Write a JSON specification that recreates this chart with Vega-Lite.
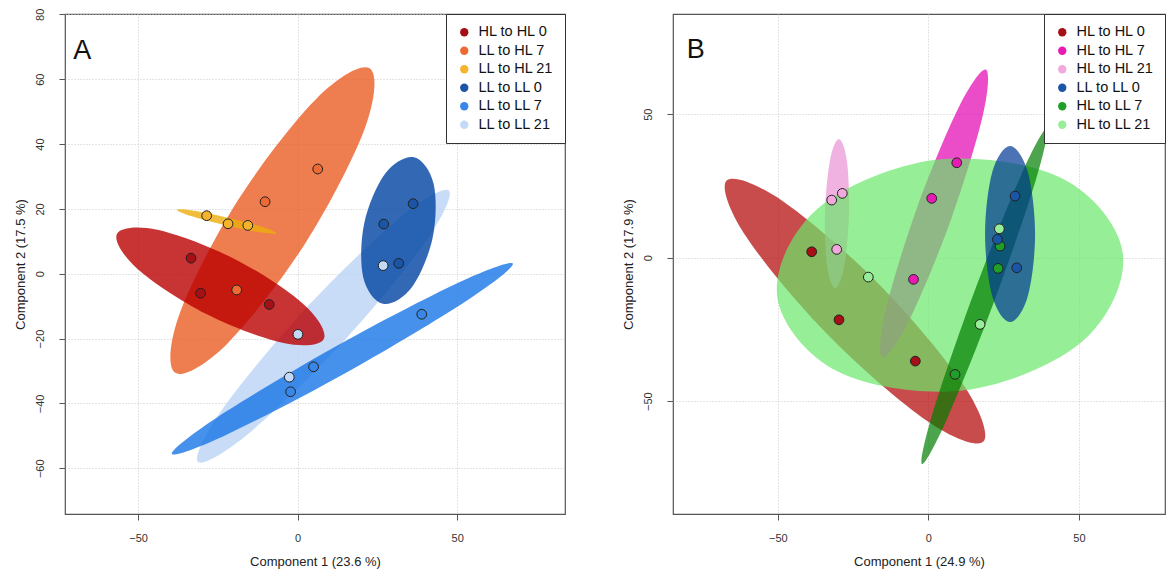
{
  "$schema": "https://vega.github.io/schema/vega-lite/v6.json",
  "padding": {"left": 13, "top": 7, "right": 0, "bottom": 0},
  "bounds": "flush",
  "spacing": 108,
  "config": {
    "font": "Liberation Sans",
    "view": {"stroke": "#555555", "strokeWidth": 1.2},
    "axis": {"grid": true, "gridColor": "#c8c8c8", "gridDash": [1, 2], "gridWidth": 1, "domain": false, "tickColor": "#555555", "tickSize": 6, "labelFontSize": 11, "labelColor": "#333333", "titleFontSize": 13, "titleFontWeight": "normal", "titleColor": "#222222"},
    "axisX": {"labelPadding": 12, "titlePadding": 12},
    "axisY": {"labelAngle": -90, "labelPadding": 14, "titlePadding": 7},
    "legend": {"orient": "top-right", "offset": 0, "strokeColor": "#333333", "fillColor": "white", "padding": 11, "labelFontSize": 14.5, "labelColor": "#111111", "symbolType": "circle", "symbolSize": 70, "rowPadding": 3.5, "symbolStrokeWidth": 0, "labelOffset": 7}
  },
  "datasets": {
    "ptsA": [
      {"group": "LL to LL 21", "x": 26.8, "y": 2.5},
      {"group": "LL to LL 21", "x": 0.1, "y": -18.7},
      {"group": "LL to LL 21", "x": -2.6, "y": -31.9},
      {"group": "LL to LL 7", "x": 38.9, "y": -12.5},
      {"group": "LL to LL 7", "x": 5.0, "y": -28.7},
      {"group": "LL to LL 7", "x": -2.2, "y": -36.4},
      {"group": "LL to LL 0", "x": 36.2, "y": 21.6},
      {"group": "LL to LL 0", "x": 27.0, "y": 15.3},
      {"group": "LL to LL 0", "x": 31.7, "y": 3.2},
      {"group": "LL to HL 7", "x": 6.3, "y": 32.3},
      {"group": "LL to HL 7", "x": -10.2, "y": 22.2},
      {"group": "LL to HL 7", "x": -19.1, "y": -5.0},
      {"group": "LL to HL 21", "x": -28.5, "y": 17.9},
      {"group": "LL to HL 21", "x": -21.8, "y": 15.4},
      {"group": "LL to HL 21", "x": -15.6, "y": 14.9},
      {"group": "HL to HL 0", "x": -33.4, "y": 4.8},
      {"group": "HL to HL 0", "x": -30.4, "y": -6.0},
      {"group": "HL to HL 0", "x": -8.9, "y": -9.5}
    ],
    "ellA": [
      {"group": "LL to LL 21", "k": 0, "x": 47.40, "y": 25.63},
      {"group": "LL to LL 21", "k": 1, "x": 39.97, "y": 9.69},
      {"group": "LL to LL 21", "k": 2, "x": 13.86, "y": -21.45},
      {"group": "LL to LL 21", "k": 3, "x": -15.64, "y": -49.51},
      {"group": "LL to LL 21", "k": 4, "x": -31.22, "y": -58.06},
      {"group": "LL to LL 21", "k": 5, "x": -23.79, "y": -42.12},
      {"group": "LL to LL 21", "k": 6, "x": 2.32, "y": -10.98},
      {"group": "LL to LL 21", "k": 7, "x": 31.82, "y": 17.08},
      {"group": "LL to LL 7", "k": 0, "x": 67.49, "y": 3.17},
      {"group": "LL to LL 7", "k": 1, "x": 53.35, "y": -8.09},
      {"group": "LL to LL 7", "k": 2, "x": 16.18, "y": -29.97},
      {"group": "LL to LL 7", "k": 3, "x": -22.26, "y": -49.63},
      {"group": "LL to LL 7", "k": 4, "x": -39.40, "y": -55.60},
      {"group": "LL to LL 7", "k": 5, "x": -25.27, "y": -44.34},
      {"group": "LL to LL 7", "k": 6, "x": 11.91, "y": -22.46},
      {"group": "LL to LL 7", "k": 7, "x": 50.34, "y": -2.80},
      {"group": "LL to LL 0", "k": 0, "x": 36.49, "y": 35.91},
      {"group": "LL to LL 0", "k": 1, "x": 42.63, "y": 27.69},
      {"group": "LL to LL 0", "k": 2, "x": 42.32, "y": 11.08},
      {"group": "LL to LL 0", "k": 3, "x": 35.74, "y": -4.25},
      {"group": "LL to LL 0", "k": 4, "x": 26.71, "y": -9.26},
      {"group": "LL to LL 0", "k": 5, "x": 20.56, "y": -1.05},
      {"group": "LL to LL 0", "k": 6, "x": 20.88, "y": 15.57},
      {"group": "LL to LL 0", "k": 7, "x": 27.46, "y": 30.89},
      {"group": "LL to HL 7", "k": 0, "x": 22.57, "y": 63.35},
      {"group": "LL to HL 7", "k": 1, "x": 21.10, "y": 44.92},
      {"group": "LL to HL 7", "k": 2, "x": 2.66, "y": 9.78},
      {"group": "LL to HL 7", "k": 3, "x": -21.97, "y": -21.48},
      {"group": "LL to HL 7", "k": 4, "x": -38.37, "y": -30.55},
      {"group": "LL to HL 7", "k": 5, "x": -36.90, "y": -12.12},
      {"group": "LL to HL 7", "k": 6, "x": -18.46, "y": 23.02},
      {"group": "LL to HL 7", "k": 7, "x": 6.18, "y": 54.28},
      {"group": "LL to HL 21", "k": 0, "x": -6.55, "y": 12.49},
      {"group": "LL to HL 21", "k": 1, "x": -11.32, "y": 12.68},
      {"group": "LL to HL 21", "k": 2, "x": -22.45, "y": 14.89},
      {"group": "LL to HL 21", "k": 3, "x": -33.39, "y": 17.78},
      {"group": "LL to HL 21", "k": 4, "x": -37.77, "y": 19.69},
      {"group": "LL to HL 21", "k": 5, "x": -33.01, "y": 19.51},
      {"group": "LL to HL 21", "k": 6, "x": -21.88, "y": 17.29},
      {"group": "LL to HL 21", "k": 7, "x": -10.94, "y": 14.40},
      {"group": "HL to HL 0", "k": 0, "x": 8.21, "y": -20.12},
      {"group": "HL to HL 0", "k": 1, "x": -4.42, "y": -21.38},
      {"group": "HL to HL 0", "k": 2, "x": -28.62, "y": -12.40},
      {"group": "HL to HL 0", "k": 3, "x": -50.25, "y": 1.57},
      {"group": "HL to HL 0", "k": 4, "x": -56.61, "y": 12.31},
      {"group": "HL to HL 0", "k": 5, "x": -43.98, "y": 13.57},
      {"group": "HL to HL 0", "k": 6, "x": -19.78, "y": 4.58},
      {"group": "HL to HL 0", "k": 7, "x": 1.85, "y": -9.38}
    ],
    "ptsB": [
      {"group": "HL to HL 0", "x": -38.74, "y": 2.06},
      {"group": "HL to HL 0", "x": -29.67, "y": -21.64},
      {"group": "HL to HL 0", "x": -4.32, "y": -36.03},
      {"group": "HL to HL 7", "x": 9.44, "y": 33.07},
      {"group": "HL to HL 7", "x": 1.13, "y": 20.66},
      {"group": "HL to HL 7", "x": -4.92, "y": -7.56},
      {"group": "HL to HL 21", "x": -32.09, "y": 20.07},
      {"group": "HL to HL 21", "x": -28.57, "y": 22.40},
      {"group": "HL to HL 21", "x": -30.43, "y": 2.89},
      {"group": "HL to LL 7", "x": 23.82, "y": 4.04},
      {"group": "HL to LL 7", "x": 23.16, "y": -3.73},
      {"group": "HL to LL 7", "x": 8.87, "y": -40.66},
      {"group": "LL to LL 0", "x": 28.80, "y": 21.46},
      {"group": "LL to LL 0", "x": 22.92, "y": 6.38},
      {"group": "LL to LL 0", "x": 29.37, "y": -3.52},
      {"group": "HL to LL 21", "x": 23.59, "y": 10.07},
      {"group": "HL to LL 21", "x": 17.18, "y": -23.24},
      {"group": "HL to LL 21", "x": -19.93, "y": -6.76}
    ],
    "ellB": [
      {"group": "HL to HL 0", "k": 0, "x": 18.27, "y": -64.08},
      {"group": "HL to HL 0", "k": 1, "x": -0.27, "y": -56.97},
      {"group": "HL to HL 0", "k": 2, "x": -32.89, "y": -27.39},
      {"group": "HL to HL 0", "k": 3, "x": -60.53, "y": 7.35},
      {"group": "HL to HL 0", "k": 4, "x": -66.98, "y": 26.86},
      {"group": "HL to HL 0", "k": 5, "x": -48.44, "y": 19.76},
      {"group": "HL to HL 0", "k": 6, "x": -15.81, "y": -9.83},
      {"group": "HL to HL 0", "k": 7, "x": 11.83, "y": -44.56},
      {"group": "HL to HL 21", "k": 0, "x": -29.70, "y": 41.32},
      {"group": "HL to HL 21", "k": 1, "x": -27.04, "y": 33.66},
      {"group": "HL to HL 21", "k": 2, "x": -26.35, "y": 15.26},
      {"group": "HL to HL 21", "k": 3, "x": -27.97, "y": -3.07},
      {"group": "HL to HL 21", "k": 4, "x": -30.96, "y": -10.59},
      {"group": "HL to HL 21", "k": 5, "x": -33.62, "y": -2.93},
      {"group": "HL to HL 21", "k": 6, "x": -34.32, "y": 15.47},
      {"group": "HL to HL 21", "k": 7, "x": -32.69, "y": 33.80},
      {"group": "HL to HL 7", "k": 0, "x": 19.07, "y": 65.54},
      {"group": "HL to HL 7", "k": 1, "x": 18.04, "y": 49.34},
      {"group": "HL to HL 7", "k": 2, "x": 7.51, "y": 13.24},
      {"group": "HL to HL 7", "k": 3, "x": -6.28, "y": -21.60},
      {"group": "HL to HL 7", "k": 4, "x": -15.28, "y": -34.81},
      {"group": "HL to HL 7", "k": 5, "x": -14.25, "y": -18.61},
      {"group": "HL to HL 7", "k": 6, "x": -3.72, "y": 17.49},
      {"group": "HL to HL 7", "k": 7, "x": 10.07, "y": 52.33},
      {"group": "HL to LL 21", "k": 0, "x": 64.62, "y": 1.32},
      {"group": "HL to LL 21", "k": 1, "x": 51.13, "y": -29.23},
      {"group": "HL to LL 21", "k": 2, "x": 11.93, "y": -46.20},
      {"group": "HL to LL 21", "k": 3, "x": -30.07, "y": -39.69},
      {"group": "HL to LL 21", "k": 4, "x": -50.20, "y": -13.45},
      {"group": "HL to LL 21", "k": 5, "x": -36.71, "y": 17.11},
      {"group": "HL to LL 21", "k": 6, "x": 2.49, "y": 34.08},
      {"group": "HL to LL 21", "k": 7, "x": 44.49, "y": 27.56},
      {"group": "HL to LL 7", "k": 0, "x": 39.30, "y": 45.02},
      {"group": "HL to LL 7", "k": 1, "x": 35.68, "y": 26.97},
      {"group": "HL to LL 7", "k": 2, "x": 22.03, "y": -14.77},
      {"group": "HL to LL 7", "k": 3, "x": 6.38, "y": -55.75},
      {"group": "HL to LL 7", "k": 4, "x": -2.09, "y": -71.92},
      {"group": "HL to LL 7", "k": 5, "x": 1.53, "y": -53.87},
      {"group": "HL to LL 7", "k": 6, "x": 15.18, "y": -12.13},
      {"group": "HL to LL 7", "k": 7, "x": 30.83, "y": 28.85},
      {"group": "LL to LL 0", "k": 0, "x": 27.14, "y": 38.89},
      {"group": "LL to LL 0", "k": 1, "x": 33.02, "y": 29.90},
      {"group": "LL to LL 0", "k": 2, "x": 35.45, "y": 8.22},
      {"group": "LL to LL 0", "k": 3, "x": 33.02, "y": -13.45},
      {"group": "LL to LL 0", "k": 4, "x": 27.14, "y": -22.44},
      {"group": "LL to LL 0", "k": 5, "x": 21.26, "y": -13.45},
      {"group": "LL to LL 0", "k": 6, "x": 18.84, "y": 8.22},
      {"group": "LL to LL 0", "k": 7, "x": 21.26, "y": 29.90}
    ]
  },
  "resolve": {"scale": {"color": "independent", "fill": "independent", "x": "independent", "y": "independent"}},
  "hconcat": [
    {
      "width": 500,
      "height": 500,
      "encoding": {
        "x": {"field": "x", "type": "quantitative", "scale": {"domain": [-72.9, 83.8], "nice": false, "zero": false}, "axis": {"values": [-50, 0, 50], "title": "Component 1 (23.6 %)"}},
        "y": {"field": "y", "type": "quantitative", "scale": {"domain": [-74.1, 80.1], "nice": false, "zero": false}, "axis": {"values": [-60, -40, -20, 0, 20, 40, 60, 80], "title": "Component 2 (17.5 %)"}}
      },
      "layer": [
        {
          "data": {"name": "ellA"},
          "mark": {"type": "line", "interpolate": "cardinal-closed", "strokeWidth": 0, "fillOpacity": 0.8},
          "encoding": {
            "detail": {"field": "group"},
            "order": {"field": "k", "type": "quantitative"},
            "fill": {"field": "group", "type": "nominal", "legend": null, "scale": {"domain": ["LL to LL 21", "LL to LL 7", "LL to LL 0", "LL to HL 7", "LL to HL 21", "HL to HL 0"], "range": ["#BAD3F6", "#1875E6", "#0043A1", "#EA5C24", "#ECAE0B", "#BA0000"]}}
          }
        },
        {
          "data": {"name": "ptsA"},
          "mark": {"type": "point", "filled": true, "size": 95, "stroke": "#222222", "strokeWidth": 1, "opacity": 1},
          "encoding": {
            "color": {"field": "group", "type": "nominal", "legend": {"title": null, "orient": "top-right"}, "scale": {"domain": ["HL to HL 0", "LL to HL 7", "LL to HL 21", "LL to LL 0", "LL to LL 7", "LL to LL 21"], "range": ["#A50F15", "#EE6A35", "#F6B42C", "#1B55A5", "#3A86E6", "#C4DAF4"]}}
          }
        },
        {
          "data": {"values": [{"label": "A", "x": -70.3, "y": 66.2}]},
          "mark": {"type": "text", "fontSize": 27, "align": "left", "baseline": "alphabetic", "color": "#111111"},
          "encoding": {"text": {"field": "label"}}
        }
      ]
    },
    {
      "width": 492,
      "height": 500,
      "encoding": {
        "x": {"field": "x", "type": "quantitative", "scale": {"domain": [-84.8, 78.6], "nice": false, "zero": false}, "axis": {"values": [-50, 0, 50], "title": "Component 1 (24.9 %)"}},
        "y": {"field": "y", "type": "quantitative", "scale": {"domain": [-89.3, 84.9], "nice": false, "zero": false}, "axis": {"values": [-50, 0, 50], "title": "Component 2 (17.9 %)"}}
      },
      "layer": [
        {
          "data": {"name": "ellB"},
          "mark": {"type": "line", "interpolate": "cardinal-closed", "strokeWidth": 0, "fillOpacity": 0.7},
          "encoding": {
            "detail": {"field": "group"},
            "order": {"field": "k", "type": "quantitative"},
            "fill": {"field": "group", "type": "nominal", "legend": null, "scale": {"domain": ["HL to HL 0", "HL to HL 21", "HL to HL 7", "HL to LL 21", "HL to LL 7", "LL to LL 0"], "range": ["#B00000", "#E991D4", "#E200B1", "#69E769", "#007E00", "#003794"]}}
          }
        },
        {
          "data": {"name": "ptsB"},
          "mark": {"type": "point", "filled": true, "size": 95, "stroke": "#222222", "strokeWidth": 1, "opacity": 1},
          "encoding": {
            "color": {"field": "group", "type": "nominal", "legend": {"title": null, "orient": "top-right"}, "scale": {"domain": ["HL to HL 0", "HL to HL 7", "HL to HL 21", "LL to LL 0", "HL to LL 7", "HL to LL 21"], "range": ["#A50F15", "#E81AB4", "#F2A8DC", "#1B55A5", "#1F9E2A", "#98EE98"]}}
          }
        },
        {
          "data": {"values": [{"label": "B", "x": -80.2, "y": 69.5}]},
          "mark": {"type": "text", "fontSize": 27, "align": "left", "baseline": "alphabetic", "color": "#111111"},
          "encoding": {"text": {"field": "label"}}
        }
      ]
    }
  ]
}
